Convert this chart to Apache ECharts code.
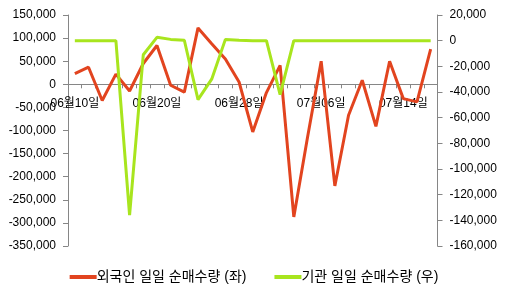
<!DOCTYPE html>
<html>
<head>
<meta charset="utf-8">
<script src="https://cdn.jsdelivr.net/npm/echarts@6/dist/echarts.min.js"></script>
<style>
html,body{margin:0;padding:0;background:#fff;}
#chart{width:508px;height:294px;}
</style>
</head>
<body>
<div id="chart"></div>
<script>
const categories = ['06월10일','06월13일','06월14일','06월15일','06월16일','06월17일','06월20일','06월21일','06월22일','06월23일','06월24일','06월27일','06월28일','06월29일','06월30일','07월01일','07월04일','07월05일','07월06일','07월07일','07월08일','07월11일','07월12일','07월13일','07월14일','07월15일','07월18일'];
const foreignNet = [23000,37000,-35000,22000,-14500,45000,84000,-2000,-17000,122000,88000,55000,5000,-103000,-18000,41000,-287000,-115000,50000,-220000,-67000,8700,-91000,50000,-31000,-38000,76000];
const institutionNet = [0,0,0,0,-136000,-11000,2600,1000,300,-46000,-30000,1000,300,0,0,-42000,0,0,0,0,0,0,0,0,0,0,0];
const seriesNames = ['외국인 일일 순매수량 (좌)','기관 일일 순매수량 (우)'];

const fontFam = "'Liberation Sans','Noto Sans CJK KR',sans-serif";
const fmt = v => v.toLocaleString('en-US');
const gridTop = 15, gridBottom = 48, chartH = 294;
const leftMin = -350000, leftMax = 150000;
// place category axis on the zero value of the left axis
const plotH = chartH - gridTop - gridBottom;
const zeroOffset = -plotH * (0 - leftMin) / (leftMax - leftMin);

const chart = echarts.init(document.getElementById('chart'), null, {renderer:'canvas'});
chart.setOption({
  backgroundColor:'#fff',
  animation:false,
  grid:{left:68, right:70.5, top:gridTop, bottom:gridBottom},
  legend:{
    top:265, left:'center',
    itemWidth:27, itemHeight:4, itemGap:28,
    icon:'rect',
    textStyle:{fontSize:14, color:'#000', fontFamily:fontFam, padding:[0,0,0,-5]},
    data:seriesNames
  },
  xAxis:{
    type:'category',
    data:categories,
    boundaryGap:true,
    offset:zeroOffset,
    axisLine:{onZero:false, lineStyle:{color:'#868686', width:1}},
    axisTick:{show:true, interval:0, length:4, lineStyle:{color:'#868686'}},
    axisLabel:{interval:5, margin:13, fontSize:12, color:'#000', fontFamily:fontFam}
  },
  yAxis:[
    {type:'value', min:leftMin, max:leftMax, interval:50000,
     axisLine:{show:true, lineStyle:{color:'#868686'}},
     axisTick:{show:true, length:5, lineStyle:{color:'#868686'}},
     splitLine:{show:false},
     axisLabel:{formatter:fmt, margin:12, fontSize:12, color:'#000', fontFamily:fontFam}},
    {type:'value', min:-160000, max:20000, interval:20000,
     axisLine:{show:true, lineStyle:{color:'#868686'}},
     axisTick:{show:true, length:5, lineStyle:{color:'#868686'}},
     splitLine:{show:false},
     axisLabel:{formatter:fmt, margin:12, fontSize:12, color:'#000', fontFamily:fontFam}}
  ],
  series:[
    {name:seriesNames[0], type:'line', yAxisIndex:0, data:foreignNet, showSymbol:false,
     symbol:'none', color:'#E2441F', lineStyle:{width:3, color:'#E2441F'}},
    {name:seriesNames[1], type:'line', yAxisIndex:1, data:institutionNet, showSymbol:false,
     symbol:'none', color:'#A8E51E', lineStyle:{width:3, color:'#A8E51E'}}
  ]
});
</script>
</body>
</html>
